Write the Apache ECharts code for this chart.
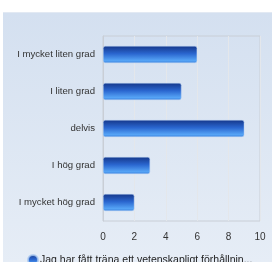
<!DOCTYPE html>
<html>
<head>
<meta charset="utf-8">
<script src="https://cdn.jsdelivr.net/npm/echarts@6/dist/echarts.min.js"></script>
<style>
  html, body { margin: 0; padding: 0; background: #fff; }
  #wrap { position: relative; width: 272px; height: 262px; overflow: hidden; }
  #panel { position: absolute; left: 3px; top: 12px; width: 269px; height: 250px;
           background: linear-gradient(to bottom, #d4e0f0 0%, #e6edf6 100%);
           border-top: 1px solid #e2e9f3; }
  #chart { position: absolute; left: 0; top: 0; width: 272px; height: 262px; }
</style>
</head>
<body>
<div id="wrap">
  <div id="panel"></div>
  <div id="chart"></div>
</div>
<script>
  // kategorier och svar
  var categories = ['I mycket liten grad', 'I liten grad', 'delvis', 'I hög grad', 'I mycket hög grad'];
  var values = [6, 5, 9, 3, 2];
  var xTicks = [0, 2, 4, 6, 8, 10];
  var seriesName = 'Jag har fått träna ett vetenskapligt förhållningssätt';

  var chart = echarts.init(document.getElementById('chart'), null, { renderer: 'canvas' });

  var barColor = new echarts.graphic.LinearGradient(0, 0, 0, 1, [
    { offset: 0, color: '#15378a' },
    { offset: 0.45, color: '#2a66cf' },
    { offset: 0.85, color: '#55a3f5' },
    { offset: 1, color: '#3f86e0' }
  ]);

  chart.setOption({
    animation: false,
    backgroundColor: 'transparent',
    textStyle: { fontFamily: 'Liberation Sans, Arial, sans-serif' },
    grid: {
      left: 103, right: 12, top: 36, bottom: 41,
      show: true, borderColor: '#c9ced6', borderWidth: 1, backgroundColor: 'transparent'
    },
    legend: {
      left: 22, top: 249,
      icon: 'circle', itemWidth: 10, itemHeight: 10, itemGap: 4,
      textStyle: { fontSize: 10.5, color: '#222', width: 229, overflow: 'truncate', padding: [0, 0, 0, -3] },
      data: [seriesName]
    },
    xAxis: {
      type: 'value', min: 0, max: 10, interval: 2,
      axisLine: { show: false },
      axisTick: { show: false },
      splitLine: { show: true, lineStyle: { color: '#e4e7eb', width: 1 } },
      axisLabel: {
        fontSize: 10, color: '#333', margin: 11,
        formatter: function (v) { return xTicks.indexOf(v) >= 0 ? String(v) : ''; }
      }
    },
    yAxis: {
      type: 'category', inverse: true, data: categories,
      axisLine: { show: true, lineStyle: { color: '#c9ced6' } },
      axisTick: { show: false },
      axisLabel: { fontSize: 9.6, color: '#333', margin: 8 }
    },
    series: [{
      name: seriesName,
      type: 'bar',
      data: values,
      barWidth: 17,
      itemStyle: {
        color: barColor,
        borderColor: 'rgba(170,200,240,0.8)',
        borderWidth: 0.6,
        borderRadius: 2
      }
    }]
  });
</script>
</body>
</html>
